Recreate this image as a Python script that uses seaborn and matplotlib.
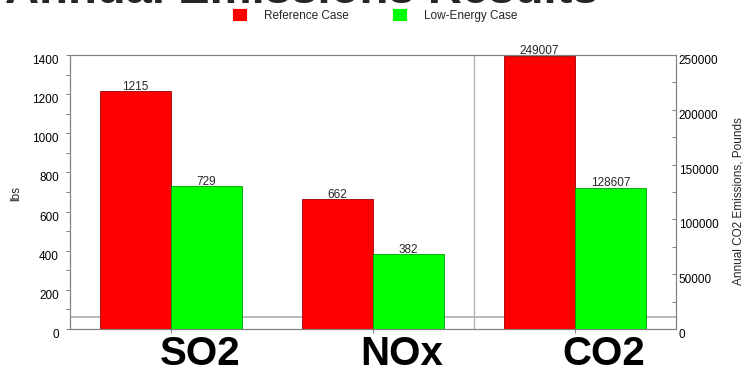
import matplotlib
matplotlib.use("Agg")
import matplotlib.pyplot as plt
import matplotlib.transforms as mtrans
from matplotlib.ticker import MultipleLocator
import seaborn as sb
import pandas as pd

# Values
pollutants = ["SO2", "NOx", "CO2"]
lbs_pollutants = ["SO2", "NOx"]
reference_lbs = [1215, 662]
low_energy_lbs = [729, 382]

co2_pollutants = ["CO2"]
reference_co2 = [249007]
low_energy_co2 = [128607]

cases = ["Reference Case", "Low-Energy Case"]
colors = {"Reference Case": "#ff0000", "Low-Energy Case": "#00ff00"}
edges = {"Reference Case": "#9a0000", "Low-Energy Case": "#009a00"}


def long_table(names, ref, low):
    rows = []
    for n, r, l in zip(names, ref, low):
        rows.append({"pollutant": n, "case": cases[0], "value": r})
        rows.append({"pollutant": n, "case": cases[1], "value": l})
    return pd.DataFrame(rows)


df_lbs = long_table(lbs_pollutants, reference_lbs, low_energy_lbs)
df_co2 = long_table(co2_pollutants, reference_co2, low_energy_co2)

sb.set_style("white")
plt.rcParams["font.family"] = ["Liberation Sans", "DejaVu Sans"]

fig = plt.figure(figsize=(7.51, 3.73), dpi=100)
ax = fig.add_axes([70 / 751, 1 - 329 / 373, 606 / 751, 274 / 373])
ax2 = ax.twinx()

sb.barplot(data=df_lbs, x="pollutant", y="value", hue="case", order=pollutants,
           hue_order=cases, palette=colors, saturation=1, width=0.7, ax=ax,
           linewidth=0.6, legend=True)
sb.barplot(data=df_co2, x="pollutant", y="value", hue="case", order=pollutants,
           hue_order=cases, palette=colors, saturation=1, width=0.7, ax=ax2,
           linewidth=0.6, legend=False)

# Background guide lines: the floor line and the divider of the CO2 panel
ax.axhline(63, color="#b4b4b4", lw=1.3, zorder=0)
ax.axvline(1.5, color="#b4b4b4", lw=1.0, zorder=0)

# darker outline on each bar, value on top
for a in (ax, ax2):
    for cont, case in zip(a.containers, cases):
        for p in cont:
            p.set_edgecolor(edges[case])
        a.bar_label(cont, fmt="%d", fontsize=8.5, padding=-1)

handles, labels = ax.get_legend_handles_labels()
ax.get_legend().remove()
fig.legend(handles, labels, loc="center", bbox_to_anchor=(0.4987, 1 - 15 / 373),
           ncol=2, frameon=False, fontsize=8.5, handlelength=1.27,
           handleheight=1.2, handletextpad=1.44, columnspacing=3.64)

ax.set_xlim(-0.5, 2.5)
ax.set_ylim(0, 1400)
ax2.set_ylim(0, 250000)

ax.yaxis.set_major_locator(MultipleLocator(200))
ax.yaxis.set_minor_locator(MultipleLocator(100))
ax2.yaxis.set_major_locator(MultipleLocator(50000))
ax2.yaxis.set_minor_locator(MultipleLocator(25000))

ax.set_xlabel("")
ax2.set_xlabel("")
ax.set_ylabel("lbs", fontsize=8.5)
ax2.set_ylabel("Annual CO2 Emissions, Pounds", fontsize=8.5)
ax.yaxis.set_label_coords(-0.079, 0.496)
ax2.yaxis.set_label_coords(1.094, 0.467)

for a in (ax, ax2):
    for s in a.spines.values():
        s.set_color("#808080")
        s.set_linewidth(0.8)
    a.tick_params(axis="both", which="both", colors="#808080",
                  labelcolor="black", width=0.7)
    a.tick_params(axis="y", labelsize=8.5)
ax.tick_params(axis="y", which="both", left=True, direction="out",
               length=3, pad=5)
ax2.tick_params(axis="y", which="both", right=True, direction="in",
                length=3, pad=2)
ax.tick_params(axis="x", bottom=True, direction="out", length=3, pad=1,
               labelsize=29)
for lbl in ax.get_xticklabels():
    lbl.set_fontweight("bold")

fig.text(0.402, 1 - 3 / 373, "Annual Emissions Results", fontsize=34,
         fontweight="bold", ha="center", va="baseline")

# nudge tick labels the way the original renderer placed them
fig.canvas.draw()
shift_x = mtrans.ScaledTranslation(29 / 100, 0, fig.dpi_scale_trans)
shift_y = mtrans.ScaledTranslation(0, -4.5 / 100, fig.dpi_scale_trans)
for lbl in ax.get_xticklabels():
    lbl.set_transform(lbl.get_transform() + shift_x)
for a in (ax, ax2):
    for lbl in a.get_yticklabels():
        lbl.set_transform(lbl.get_transform() + shift_y)

fig.savefig("out.png", dpi=100)
